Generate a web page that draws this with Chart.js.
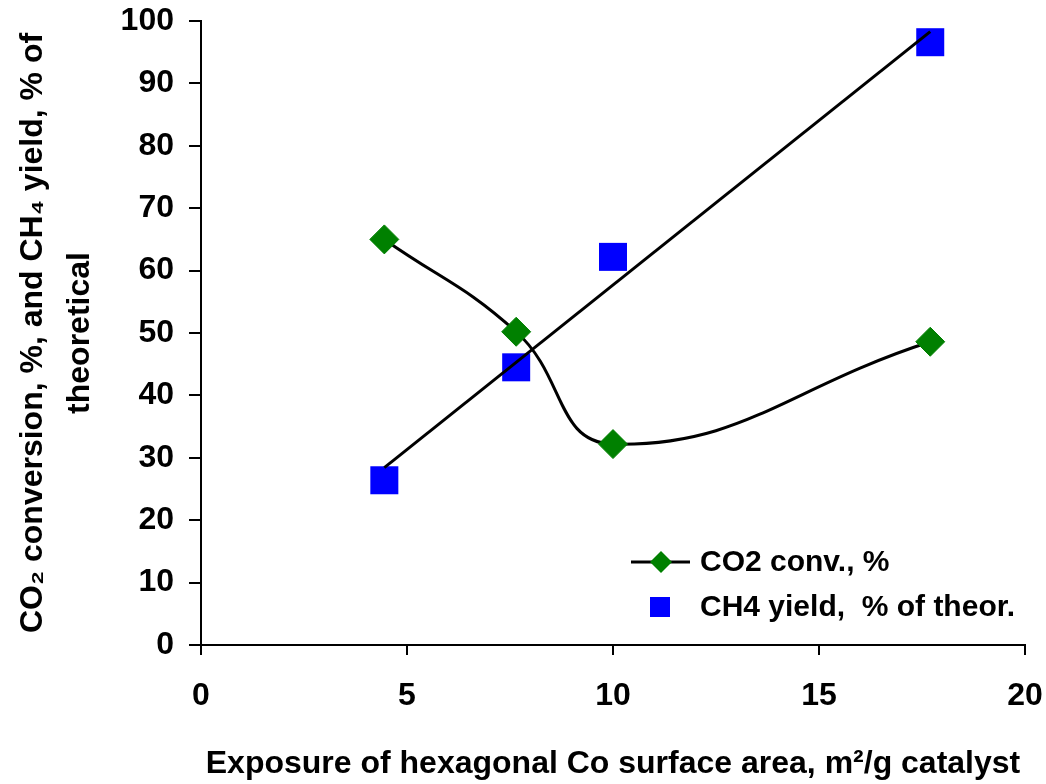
<!DOCTYPE html>
<html>
<head>
<meta charset="utf-8">
<script src="https://cdn.jsdelivr.net/npm/chart.js@4.4.1/dist/chart.umd.min.js"></script>
<style>
  html, body { margin: 0; padding: 0; background: #fff; }
</style>
</head>
<body>
<canvas id="myChart" width="1046" height="784"></canvas>
<script>
// values
const surfaceArea = [4.45, 7.65, 10.0, 17.7];
const co2Conv = [65.0, 50.2, 32.2, 48.6];
const ch4Yield = [26.4, 44.5, 62.2, 96.6];
const xTicks = [0, 5, 10, 15, 20];
const yTicks = [0, 10, 20, 30, 40, 50, 60, 70, 80, 90, 100];

const FONT = "'Liberation Sans', Arial, sans-serif";

// linear trend line for CH4 yield (least squares, as in the original)
function linearFit(xs, ys) {
  const n = xs.length;
  const mx = xs.reduce((a, b) => a + b, 0) / n;
  const my = ys.reduce((a, b) => a + b, 0) / n;
  let sxy = 0, sxx = 0;
  for (let i = 0; i < n; i++) {
    sxy += (xs[i] - mx) * (ys[i] - my);
    sxx += (xs[i] - mx) * (xs[i] - mx);
  }
  const slope = sxy / sxx;
  return { slope, intercept: my - slope * mx };
}
const fit = linearFit(surfaceArea, ch4Yield);
const xMin = Math.min(...surfaceArea);
const xMax = Math.max(...surfaceArea);
const trendPoints = [xMin, xMax].map(x => ({ x, y: fit.intercept + fit.slope * x }));

const co2Points = surfaceArea.map((x, i) => ({ x, y: co2Conv[i] }));
const ch4Points = surfaceArea.map((x, i) => ({ x, y: ch4Yield[i] }));

// legend drawn inside the plot area, bottom right
const insideLegend = {
  id: "insideLegend",
  afterDraw(chart) {
    const ctx = chart.ctx;
    ctx.save();
    // CO2 entry: line + diamond
    ctx.strokeStyle = "#000";
    ctx.lineWidth = 3;
    ctx.beginPath();
    ctx.moveTo(631, 562);
    ctx.lineTo(690, 562);
    ctx.stroke();
    ctx.fillStyle = "#008000";
    ctx.beginPath();
    ctx.moveTo(661 - 11, 562);
    ctx.lineTo(661, 562 - 11);
    ctx.lineTo(661 + 11, 562);
    ctx.lineTo(661, 562 + 11);
    ctx.closePath();
    ctx.fill();
    // CH4 entry: blue square
    ctx.fillStyle = "#0000ff";
    ctx.fillRect(650, 597, 20, 20);
    // texts
    ctx.fillStyle = "#000";
    ctx.font = "bold 30px " + FONT;
    ctx.textBaseline = "middle";
    ctx.textAlign = "left";
    ctx.fillText("CO2 conv., %", 700, 563);
    ctx.fillText("CH4 yield,  % of theor.", 700, 608);
    ctx.restore();
  },
};

const ctx = document.getElementById("myChart");
const chartInstance = new Chart(ctx, {
  type: "scatter",
  data: {
    datasets: [
      {
        label: "trend",
        type: "line",
        data: trendPoints,
        borderColor: "#000",
        borderWidth: 3,
        pointRadius: 0,
        showLine: true,
        order: 0,
      },
      {
        label: "CO2 conv., %",
        type: "line",
        data: co2Points,
        borderColor: "#000",
        borderWidth: 3,
        tension: 0.45,
        showLine: true,
        pointStyle: "rectRot",
        pointRadius: 14.5,
        pointBackgroundColor: "#008000",
        pointBorderColor: "#008000",
        pointBorderWidth: 1,
        order: 1,
      },
      {
        label: "CH4 yield,  % of theor.",
        data: ch4Points,
        showLine: false,
        pointStyle: "rect",
        pointRadius: 19.8,
        pointBackgroundColor: "#0000ff",
        pointBorderColor: "#0000ff",
        pointBorderWidth: 0,
        order: 2,
      },
    ],
  },
  options: {
    responsive: false,
    animation: false,
    layout: { padding: 0 },
    plugins: {
      legend: { display: false },
      tooltip: { enabled: false },
    },
    scales: {
      x: {
        type: "linear",
        min: 0,
        max: 20,
        afterBuildTicks: (scale) => { scale.ticks = xTicks.map(v => ({ value: v })); },
        afterFit: (scale) => {
          scale.height = 139;
          scale.paddingLeft = 0;
          scale.paddingRight = 21;
        },
        ticks: {
          color: "#000",
          padding: 22,
          font: { family: FONT, size: 32, weight: "bold" },
        },
        grid: { drawOnChartArea: false, drawTicks: true, tickLength: 10, color: "#000", lineWidth: 2 },
        border: { color: "#000", width: 2 },
        title: {
          display: true,
          text: "Exposure of hexagonal Co surface area, m²/g catalyst",
          color: "#000",
          font: { family: FONT, size: 32, weight: "bold", lineHeight: 1.2 },
          padding: { top: 0, bottom: 1 },
        },
      },
      y: {
        min: 0,
        max: 100,
        afterBuildTicks: (scale) => { scale.ticks = yTicks.map(v => ({ value: v })); },
        afterFit: (scale) => {
          scale.width = 201;
          scale.paddingTop = 21;
          scale.paddingBottom = 0;
        },
        ticks: {
          color: "#000",
          padding: 15,
          font: { family: FONT, size: 32, weight: "bold" },
        },
        grid: { drawOnChartArea: false, drawTicks: true, tickLength: 12, color: "#000", lineWidth: 2 },
        border: { color: "#000", width: 2 },
        title: {
          display: true,
          text: ["CO₂ conversion, %, and CH₄ yield, % of", "theoretical"],
          color: "#000",
          font: { family: FONT, size: 32, weight: "bold", lineHeight: 1.47 },
          padding: { top: 10, bottom: 0 },
        },
      },
    },
  },
  plugins: [insideLegend],
});
</script>
</body>
</html>
